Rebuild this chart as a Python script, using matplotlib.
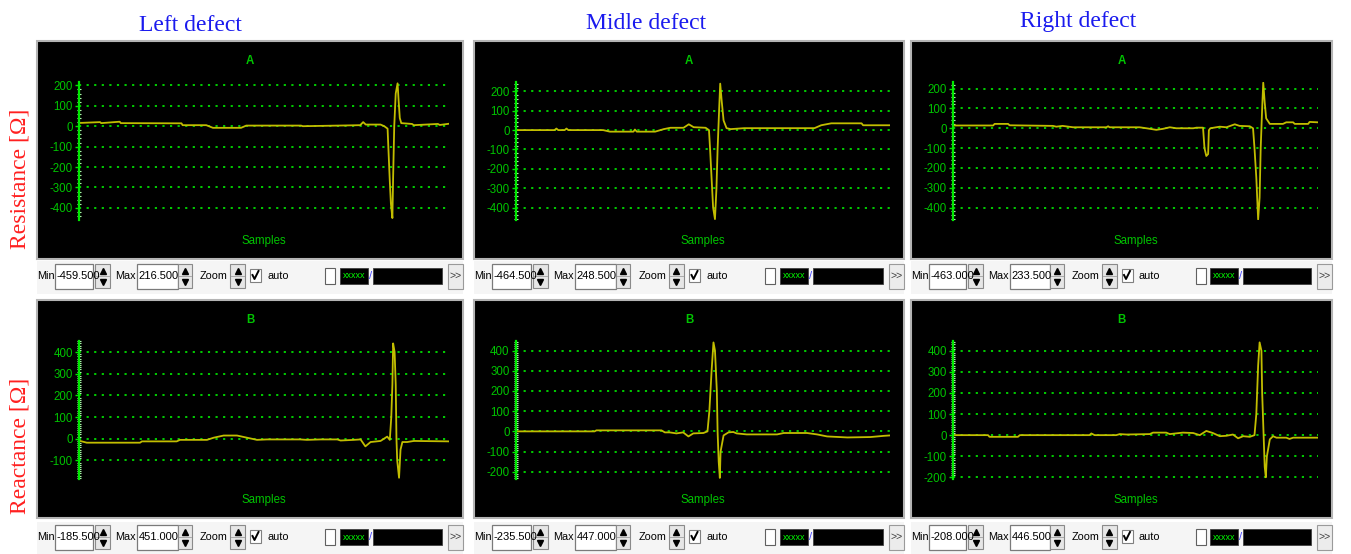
import numpy as np
import matplotlib
matplotlib.use('Agg')
import matplotlib.pyplot as plt
from matplotlib import font_manager
from matplotlib.patches import Rectangle
from matplotlib.ticker import MultipleLocator

# ---- data (samples 0..1000 across the plot width) ----
titles = ['Left defect', 'Midle defect', 'Right defect']
row_names = ['Resistance [Ω]', 'Reactance [Ω]']
channel_names = ['A', 'B']

left_r_x = [0, 3, 57, 60, 110, 113, 277, 280, 344, 362, 438, 452, 600, 605, 700, 760,
            768, 775, 815, 825, 834, 836, 840, 843, 847, 849, 852, 856, 861, 864, 867,
            871, 900, 905, 970, 975, 1000]
left_r_y = [16, 16, 20, 15, 22, 15, 14, 5, 5, -8, -8, 3, 3, 0, 3, 5,
            20, 8, 8, 0, -12, -100, -270, -380, -450, -250, 0, 160, 210, 120, 40,
            15, 11, 5, 11, 6, 12]

mid_r_x = [0, 103, 108, 113, 130, 135, 140, 233, 251, 314, 318, 323, 372, 395, 413, 448,
           462, 475, 507, 516, 519, 523, 527, 532, 536, 539, 543, 546, 550, 555, 563,
           574, 610, 798, 816, 843, 924, 928, 1000]
mid_r_y = [0, 0, 8, 0, 0, 8, 0, 0, -8, -8, 3, -8, -8, 5, 12, 12,
           30, 15, 12, 0, -100, -250, -400, -460, -300, -100, 100, 240, 150, 50, 10,
           5, 10, 10, 25, 35, 35, 25, 25]

right_r_x = [0, 110, 114, 151, 155, 274, 283, 300, 329, 420, 425, 429, 511, 530, 557, 575,
             594, 612, 658, 667, 685, 689, 694, 699, 701, 705, 731, 749, 772, 785, 813,
             822, 826, 831, 836, 840, 843, 847, 850, 854, 858, 868, 904, 913, 932, 936,
             973, 977, 1000]
right_r_y = [14, 14, 22, 22, 15, 12, 8, 12, 5, 5, 10, 5, 5, 0, -8, -3,
             5, 0, 0, 3, 3, -100, -140, -130, -10, 0, 8, 5, 20, 12, 10,
             0, -100, -250, -460, -350, -100, 100, 230, 130, 50, 22, 22, 30, 30, 22,
             22, 32, 30]

left_x_x = [0, 3, 21, 165, 170, 264, 273, 346, 364, 391, 427, 454, 481, 508, 598, 616,
            653, 698, 707, 743, 761, 774, 788, 815, 833, 840, 844, 847, 849, 853, 856,
            858, 860, 865, 869, 874, 887, 905, 1000]
left_x_y = [-10, -10, -18, -18, -12, -12, -5, -5, 5, 15, 15, 5, -5, -3, -3, -5,
            -3, -3, -8, -5, -3, -35, -15, -10, 10, -5, 100, 250, 440, 400, 250,
            0, -100, -180, -50, -15, -15, -10, -12]

mid_x_x = [0, 210, 215, 389, 398, 411, 429, 447, 461, 474, 501, 512, 517, 523, 528, 532,
           537, 539, 542, 545, 547, 555, 568, 581, 590, 617, 698, 716, 778, 805, 832,
           886, 948, 984, 1000]
mid_x_y = [0, 0, 5, 5, -5, -5, -10, -5, -25, -10, -8, 0, 100, 300, 440, 400,
           200, 0, -150, -230, -100, -20, -5, -3, -10, -15, -15, -8, -8, -15, -25,
           -30, -28, -22, -20]

right_x_x = [0, 96, 100, 178, 183, 374, 379, 388, 447, 457, 475, 539, 548, 584, 594, 630,
             658, 676, 694, 712, 731, 749, 767, 781, 795, 813, 826, 831, 836, 840, 845,
             847, 851, 854, 857, 860, 868, 877, 886, 913, 922, 932, 1000]
right_x_y = [0, 0, -8, -8, 0, 0, 8, 0, 0, 5, 3, 5, 12, 12, 5, 12,
             10, 0, 20, 10, -5, -3, 3, -15, -5, -8, 0, 100, 330, 440, 400,
             200, 0, -150, -200, -100, -20, -5, -12, -12, -18, -12, -12]

# Min / Max readouts of each panel (also used as the y range)
r_min = [-459.5, -464.5, -463.0]
r_max = [216.5, 248.5, 233.5]
x_min = [-185.5, -235.5, -208.0]
x_max = [451.0, 447.0, 446.5]

traces = [[(left_r_x, left_r_y), (mid_r_x, mid_r_y), (right_r_x, right_r_y)],
          [(left_x_x, left_x_y), (mid_x_x, mid_x_y), (right_x_x, right_x_y)]]
limits = [[(r_min[i], r_max[i]) for i in range(3)],
          [(x_min[i], x_max[i]) for i in range(3)]]

# ---- layout (pixels) ----
W, H = 1351, 554
col_left = [37, 474, 911]
col_w = [426, 430, 421]
row_top = [41, 300]
panel_h = 218
bar_center = [276, 537]
title_x = [190, 646, 1078]
title_base = [31, 29, 27]
row_label_y = [179, 446]

names = {f.name for f in font_manager.fontManager.ttflist}
UI_FONT = 'Liberation Sans Narrow' if 'Liberation Sans Narrow' in names else 'Liberation Sans'
narrow = UI_FONT == 'Liberation Sans Narrow'
plt.rcParams['font.family'] = [UI_FONT, 'DejaVu Sans']
UI_SIZE = 9.5 if narrow else 7.8
VAL_SIZE = 9.5 if narrow else 8.0
TICK_SIZE = 9.5 if narrow else 8.3

TRACE = '#c2bd00'
GRID = '#00dd00'
LABEL = '#00c400'


def frac(x, y, w, h):
    return [x / W, 1 - (y + h) / H, w / W, h / H]


fig = plt.figure(figsize=(W / 100, H / 100), dpi=100)
fig.patch.set_facecolor('white')
bg = fig.add_axes([0, 0, 1, 1])
bg.set_xlim(0, W)
bg.set_ylim(H, 0)
bg.axis('off')


def spinner(x, yc, w):
    bg.add_patch(Rectangle((x, yc - 12), w, 24, facecolor='#e6e6e6', edgecolor='#8a8a8a', lw=0.8))
    bg.plot([x + 1, x + w - 1], [yc, yc], color='#a0a0a0', lw=0.6)
    bg.plot(x + w / 2, yc - 5.5, marker='^', ms=4.5, color='black')
    bg.plot(x + w / 2, yc + 5.5, marker='v', ms=4.5, color='black')


def value_box(x, yc, w, value):
    box = Rectangle((x, yc - 12.5), w, 25, facecolor='white', edgecolor='#7a7a7a', lw=0.9)
    bg.add_patch(box)
    t = bg.text(x + 1.5, yc, f'{value:.3f}', fontsize=VAL_SIZE, va='center', ha='left', color='black')
    t.set_clip_path(box)


def control_bar(x0, yc, w, vmin, vmax):
    s = w / 426.0
    bg.add_patch(Rectangle((x0, yc - 15), w, 33, facecolor='#f5f5f5', edgecolor='none'))
    bg.text(x0 + 0.5, yc, 'Min', fontsize=UI_SIZE, va='center', ha='left')
    value_box(x0 + 18 * s, yc, 38 * s, vmin)
    spinner(x0 + 58 * s, yc, 15 * s)
    bg.text(x0 + 78 * s, yc, 'Max', fontsize=UI_SIZE, va='center', ha='left')
    value_box(x0 + 100 * s, yc, 41 * s, vmax)
    spinner(x0 + 141 * s, yc, 14 * s)
    bg.text(x0 + 163 * s, yc, 'Zoom', fontsize=UI_SIZE, va='center', ha='left')
    spinner(x0 + 193 * s, yc, 15 * s)
    cx = x0 + 213 * s
    bg.add_patch(Rectangle((cx, yc - 7), 11, 13, facecolor='white', edgecolor='#808080', lw=0.8))
    bg.plot([cx + 2.5, cx + 4.5, cx + 8.5], [yc - 1, yc + 3, yc - 5], color='black', lw=1.4)
    bg.text(x0 + 230 * s, yc, 'auto', fontsize=UI_SIZE, va='center', ha='left')
    bg.add_patch(Rectangle((x0 + 288 * s, yc - 8), 10, 16, facecolor='white', edgecolor='#606060', lw=0.8))
    bg.add_patch(Rectangle((x0 + 303 * s, yc - 8), 28 * s, 16, facecolor='black', edgecolor='#404040', lw=0.6))
    bg.text(x0 + 317 * s, yc, 'xxxxx', fontsize=6.5, va='center', ha='center', color='#00ff00')
    bg.text(x0 + 333.5 * s, yc, '/', fontsize=8, va='center', ha='center', color='#4040ff')
    bg.add_patch(Rectangle((x0 + 336 * s, yc - 8), 69 * s, 16, facecolor='black', edgecolor='#404040', lw=0.6))
    bg.add_patch(Rectangle((x0 + 411 * s, yc - 12), 15 * s, 25, facecolor='#ececec', edgecolor='#9a9a9a', lw=0.8))
    bg.text(x0 + 418.5 * s, yc, '>>', fontsize=7.5, va='center', ha='center', color='#404040')


for c in range(3):
    bg.text(title_x[c], title_base[c], titles[c], family='Liberation Serif', fontsize=17,
            color='#1a1aee', ha='center', va='baseline')

for r in range(2):
    bg.text(20, row_label_y[r], row_names[r], family='Liberation Serif', fontsize=17,
            color='#ff2020', rotation=90, ha='center', va='center')

for r in range(2):
    for c in range(3):
        x0, y0, pw = col_left[c], row_top[r], col_w[c]
        bg.add_patch(Rectangle((x0, y0), pw, panel_h, facecolor='black', edgecolor='#b4b4b4', lw=1.5))
        bg.text(x0 + pw / 2, y0 + 20, channel_names[r], fontsize=TICK_SIZE, fontweight='bold',
                color=LABEL, ha='center', va='center')
        vmin, vmax = limits[r][c]
        control_bar(x0, bar_center[r], pw, vmin, vmax)

        ax_l, ax_r = x0 + 42, x0 + pw - 14
        ax_t, ax_b = y0 + 41, y0 + 179
        ax = fig.add_axes(frac(ax_l, ax_t, ax_r - ax_l, ax_b - ax_t), zorder=2)
        ax.set_facecolor('none')
        xs, ys = traces[r][c]
        ax.plot(xs, ys, color=TRACE, lw=1.3)
        ax.set_xlim(0, 1000)
        ax.set_ylim(vmin, vmax)
        for s in ['top', 'right', 'bottom']:
            ax.spines[s].set_visible(False)
        ax.spines['left'].set_color('#00e800')
        ax.spines['left'].set_linewidth(1.6)
        ax.set_xticks([])
        ticks = np.arange(np.ceil(vmin / 100) * 100, vmax + 1, 100)
        ax.set_yticks(ticks)
        ax.set_yticklabels([f'{t:.0f}' for t in ticks])
        ax.yaxis.set_minor_locator(MultipleLocator(20 if r == 0 else 10))
        ax.tick_params(axis='y', which='major', colors=LABEL, labelsize=TICK_SIZE, length=3,
                       width=1, pad=1.5, color='#00e800')
        ax.tick_params(axis='y', which='minor', direction='inout', length=2.5,
                       width=0.8, color='#b8f8b8')
        ax.grid(axis='y', which='major', color=GRID, linestyle=(0, (1.2, 3)), lw=1.3)
        ax.text(0.5, -(200 - 179) / (ax_b - ax_t), 'Samples', transform=ax.transAxes,
                fontsize=TICK_SIZE, color=LABEL, ha='center', va='center')

fig.savefig('out.png', dpi=100, facecolor='white')
